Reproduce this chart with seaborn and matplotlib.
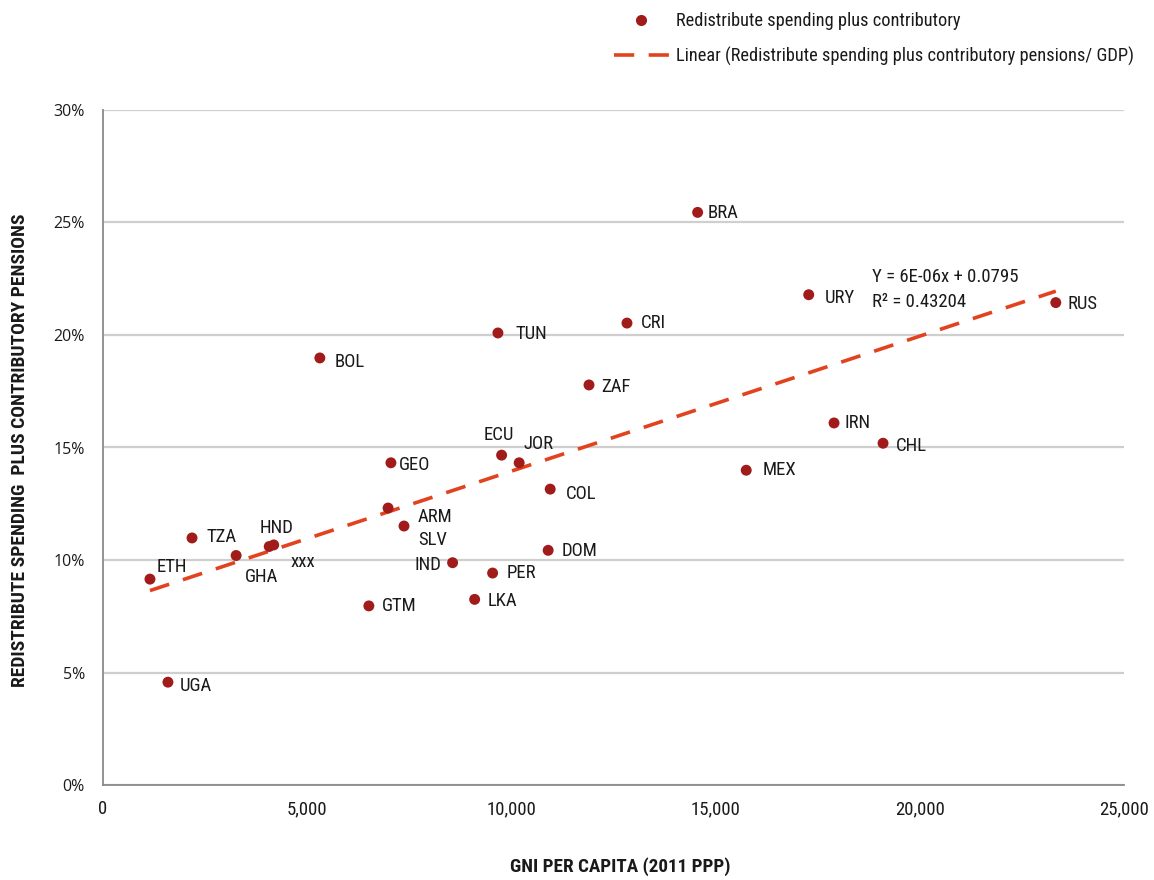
import os
import numpy as np
import pandas as pd
import matplotlib
matplotlib.use("Agg")
import matplotlib.pyplot as plt
import seaborn as sns
from matplotlib import font_manager as fm
from matplotlib.lines import Line2D
from matplotlib.ticker import FuncFormatter

# Country codes, GNI per capita (2011 PPP) and redistributive spending share of GDP
countries = ["ETH", "UGA", "TZA", "GHA", "HND", "xxx", "BOL", "GTM", "GEO", "ARM",
             "SLV", "IND", "LKA", "PER", "TUN", "ECU", "JOR", "DOM", "COL", "ZAF",
             "CRI", "BRA", "MEX", "URY", "IRN", "CHL", "RUS"]
gni_per_capita = [1150, 1590, 2180, 3260, 4070, 4180, 5310, 6510, 7050, 6980,
                  7370, 8560, 9100, 9540, 9670, 9760, 10190, 10900, 10950, 11900,
                  12830, 14560, 15750, 17280, 17900, 19100, 23330]
spending_share = [0.0915, 0.0457, 0.1098, 0.1020, 0.1060, 0.1067, 0.1898, 0.0796, 0.1432, 0.1231,
                  0.1151, 0.0988, 0.0825, 0.0942, 0.2009, 0.1466, 0.1432, 0.1043, 0.1315, 0.1778,
                  0.2053, 0.2545, 0.1399, 0.2179, 0.1609, 0.1519, 0.2144]

# Trend line as reported on the chart
trend_slope = 6e-06
trend_intercept = 0.0795
trend_r2 = 0.43204

x_ticks = [0, 5000, 10000, 15000, 20000, 25000]
y_ticks = [0.0, 0.05, 0.10, 0.15, 0.20, 0.25, 0.30]

# Label placement around each marker (pixels: dx, dy, horizontal alignment)
label_offsets = {
    "ETH": (7, 12, "left"), "UGA": (12, -4, "left"), "TZA": (14, 1, "left"),
    "GHA": (9, -21, "left"), "HND": (-10, 19, "left"), "xxx": (17, -17, "left"),
    "BOL": (15, -4, "left"), "GTM": (13, 0, "left"), "GEO": (8, -2, "left"),
    "ARM": (30, -9, "left"), "SLV": (14, -14, "left"), "IND": (-11, -2, "right"),
    "LKA": (13, -2, "left"), "PER": (14, 0, "left"), "TUN": (18, -1, "left"),
    "ECU": (-18, 20, "left"), "JOR": (4, 19, "left"), "DOM": (13, -1, "left"),
    "COL": (16, -5, "left"), "ZAF": (12, -2, "left"), "CRI": (14, 0, "left"),
    "BRA": (10, -1, "left"), "MEX": (16, 0, "left"), "URY": (16, -3, "left"),
    "IRN": (10, 0, "left"), "CHL": (13, -3, "left"), "RUS": (12, -1, "left"),
}


def _weight_num(w):
    if isinstance(w, (int, float)):
        return int(w)
    return fm.weight_dict.get(str(w).lower(), 400)


def _is_narrow(f):
    text = (f.name + " " + os.path.basename(f.fname)).lower()
    if "narrow" in text or "condensed" in text:
        return True
    st = f.stretch
    if isinstance(st, (int, float)):
        return st < 500
    return "condensed" in str(st).lower()


def narrow_face(bold, size):
    """Pick an installed narrow/condensed face; fall back to Roboto."""
    prefs = ["liberation sans narrow", "roboto condensed", "open sans condensed",
             "dejavu sans", "noto sans"]
    found = []
    for f in fm.fontManager.ttflist:
        if f.style != "normal" or not _is_narrow(f):
            continue
        w = _weight_num(f.weight)
        if bold and not (600 <= w <= 800):
            continue
        if not bold and not (400 <= w <= 500):
            continue
        name = f.name.lower()
        rank = next((i for i, p in enumerate(prefs) if name.startswith(p)), len(prefs))
        found.append((rank, abs(w - (700 if bold else 400)), f.fname))
    if found:
        found.sort()
        return fm.FontProperties(fname=found[0][2], size=size)
    return fm.FontProperties(family=["Roboto", "DejaVu Sans"],
                             weight="bold" if bold else "normal", size=size)


df = pd.DataFrame({"country": countries, "gni": gni_per_capita, "share": spending_share})

sns.set_theme(style="white")
plt.rcParams["font.family"] = ["Roboto", "DejaVu Sans"]

fp_label = narrow_face(False, 13.5)
fp_tick = narrow_face(False, 13.5)
fp_legend = narrow_face(False, 13.2)
fp_title = narrow_face(True, 13.8)
fp_ytitle = narrow_face(True, 14)
fp_ytick = fm.FontProperties(family=["Open Sans", "DejaVu Sans"], size=11.5)

point_color = "#A11B1B"
trend_color = "#E2431E"
ink = "#1a1a1a"

fig = plt.figure(figsize=(11.54, 8.80), dpi=100)
ax = fig.add_axes([103 / 1154, 1 - 785 / 880, (1124 - 103) / 1154, (785 - 110) / 880])

sns.scatterplot(data=df, x="gni", y="share", ax=ax, color=point_color, s=62,
                edgecolor="none", zorder=3, legend=False)

xs = np.array([min(gni_per_capita), max(gni_per_capita)])
ax.plot(xs, trend_slope * xs + trend_intercept, color=trend_color, lw=2.6,
        dashes=(5.6, 4.0), zorder=2)

for name, gx, gy in zip(countries, gni_per_capita, spending_share):
    dx, dy, ha = label_offsets[name]
    ax.annotate(name, (gx, gy), xytext=(dx, dy), textcoords="offset pixels",
                ha=ha, va="center", fontproperties=fp_label, color=ink, zorder=4)

ax.text(18830, 0.2258, f"Y = {trend_slope:.0E}x + {trend_intercept}",
        fontproperties=fp_label, color=ink, va="center", ha="left")
ax.text(18830, 0.2147, f"R² = {trend_r2}", fontproperties=fp_label, color=ink,
        va="center", ha="left")

ax.set_xlim(0, 25000)
ax.set_ylim(0, 0.30)
ax.xaxis.set_major_locator(plt.FixedLocator(x_ticks))
ax.yaxis.set_major_locator(plt.FixedLocator(y_ticks))
ax.xaxis.set_major_formatter(FuncFormatter(lambda v, p: f"{v:,.0f}"))
ax.yaxis.set_major_formatter(FuncFormatter(lambda v, p: f"{v * 100:.0f}%"))

ax.grid(axis="y", color="#cfcfcf", lw=1.6)
ax.grid(axis="x", visible=False)
ax.set_axisbelow(True)
for side in ["top", "right"]:
    ax.spines[side].set_visible(False)
for side in ["left", "bottom"]:
    ax.spines[side].set_color("#8a8a8a")
    ax.spines[side].set_linewidth(1.3)
ax.tick_params(axis="x", length=0, pad=11, labelcolor=ink)
ax.tick_params(axis="y", length=0, pad=13, labelcolor=ink)
for lab in ax.get_xticklabels():
    lab.set_fontproperties(fp_tick)
for lab in ax.get_yticklabels():
    lab.set_fontproperties(fp_ytick)

ax.set_xlabel("")
ax.set_ylabel("")
fig.text(620 / 1154, 1 - 867 / 880, "GNI PER CAPITA (2011 PPP)", ha="center", va="center",
         fontproperties=fp_title, color=ink)
fig.text(20 / 1154, 1 - 450 / 880, "REDISTRIBUTE SPENDING  PLUS CONTRIBUTORY PENSIONS",
         ha="center", va="center", rotation=90, fontproperties=fp_ytitle, color=ink)

handles = [
    Line2D([], [], marker="o", linestyle="none", color=point_color, markersize=8,
           markeredgewidth=0),
    Line2D([], [], color=trend_color, lw=2.6, dashes=(5.6, 4.0)),
]
labels = ["Redistribute spending plus contributory",
          "Linear (Redistribute spending plus contributory pensions/ GDP)"]
fig.legend(handles, labels, loc="upper left", bbox_to_anchor=(597 / 1154, 1 + 4 / 880),
           frameon=False, prop=fp_legend, handlelength=3.0, handletextpad=0.4,
           labelspacing=0.9, labelcolor=ink)

fig.savefig("out.png", dpi=100, facecolor="white")
